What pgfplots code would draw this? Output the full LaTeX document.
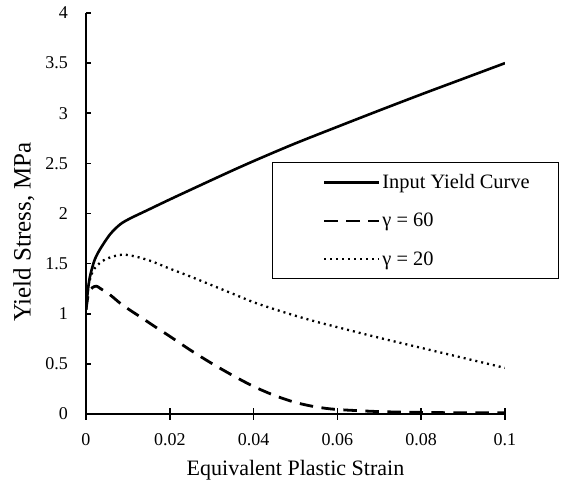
\documentclass[border=0pt]{standalone}
\usepackage{fontspec}
\setmainfont{Liberation Serif}
\usepackage{pgfplots}
\pgfplotsset{compat=1.18}

% Hardening law (input curve) and the two softened responses
\pgfplotstableread{
eps    sig
0      1.04
0.0005 1.25
0.001  1.38
0.002  1.53
0.0033 1.64
0.0057 1.79
0.0081 1.89
0.0105 1.95
0.0145 2.03
0.020  2.14
0.0272 2.28
0.035  2.43
0.0415 2.55
0.050  2.70
0.060  2.865
0.070  3.028
0.080  3.188
0.090  3.344
0.100  3.50
}\inputcurve

\pgfplotstableread{
eps    sig
0      1.04
0.0006 1.20
0.0015 1.26
0.0025 1.275
0.0035 1.25
0.0057 1.19
0.008  1.11
0.010  1.05
0.012  0.995
0.014  0.94
0.0165 0.87
0.020  0.775
0.025  0.635
0.030  0.505
0.035  0.385
0.040  0.275
0.045  0.185
0.050  0.115
0.055  0.07
0.060  0.045
0.070  0.024
0.080  0.016
0.090  0.012
0.100  0.012
}\gammasixty

\pgfplotstableread{
eps    sig
0      1.04
0.0005 1.25
0.001  1.35
0.002  1.45
0.0045 1.54
0.0089 1.59
0.0145 1.54
0.020  1.45
0.025  1.37
0.030  1.285
0.035  1.20
0.040  1.115
0.045  1.045
0.050  0.98
0.055  0.92
0.060  0.866
0.070  0.76
0.080  0.66
0.090  0.56
0.100  0.46
}\gammatwenty

\begin{document}
\begin{tikzpicture}
\begin{axis}[
  width=419pt, height=401pt, scale only axis,
  xmin=0, xmax=0.1, ymin=0, ymax=4,
  axis lines=left,
  axis line style={-, line width=1.6pt, black},
  xtick={0,0.02,0.04,0.06,0.08,0.1},
  xticklabels={0,0.02,0.04,0.06,0.08,0.1},
  ytick={0,0.5,1,1.5,2,2.5,3,3.5,4},
  yticklabels={0,0.5,1,1.5,2,2.5,3,3.5,4},
  tick align=inside, major tick length=5.5pt,
  tick style={line width=1.6pt, black},
  extra x ticks={0,0.02,0.04,0.06,0.08,0.1},
  extra x tick labels={},
  extra x tick style={tick align=outside},
  /pgf/number format/assume math mode=true,
  tick label style={font=\fontsize{18}{20}\selectfont},
  xticklabel style={anchor=base, inner sep=0pt, yshift=-31pt},
  yticklabel style={anchor=east, inner sep=0pt, xshift=-18pt},
  xlabel={Equivalent Plastic Strain},
  ylabel={Yield Stress, MPa},
  xlabel style={font=\fontsize{22}{24}\selectfont,
    at={(axis description cs:0.5,-0.1546)}, anchor=base},
  ylabel style={font=\fontsize{25}{27}\selectfont,
    at={(axis description cs:-0.148,0.454)}, anchor=center},
  legend style={at={(rel axis cs:0.444,0.628)}, anchor=north west,
    draw=black, line width=1.2pt,
    font=\fontsize{20.4}{22}\selectfont,
    inner xsep=27pt, inner ysep=10pt, row sep=19pt,
    cells={anchor=west}},
  legend image code/.code={%
    \path (-23pt,0pt);
    \draw[#1] (0pt,0pt) -- (55pt,0pt);},
]
\addplot[black, line width=2.6pt, smooth] table {\inputcurve};
\addlegendentry{Input Yield Curve}
\addplot[black, line width=2.8pt, dash pattern=on 13.5pt off 8.5pt, smooth] table {\gammasixty};
\addlegendentry{γ = 60}
\addplot[black, line width=2.3pt, dash pattern=on 2pt off 4pt, smooth] table {\gammatwenty};
\addlegendentry{γ = 20}
\end{axis}
\pgfresetboundingbox
\path[use as bounding box] (-86pt,-71pt) rectangle (488pt,414pt);
\end{tikzpicture}
\end{document}
